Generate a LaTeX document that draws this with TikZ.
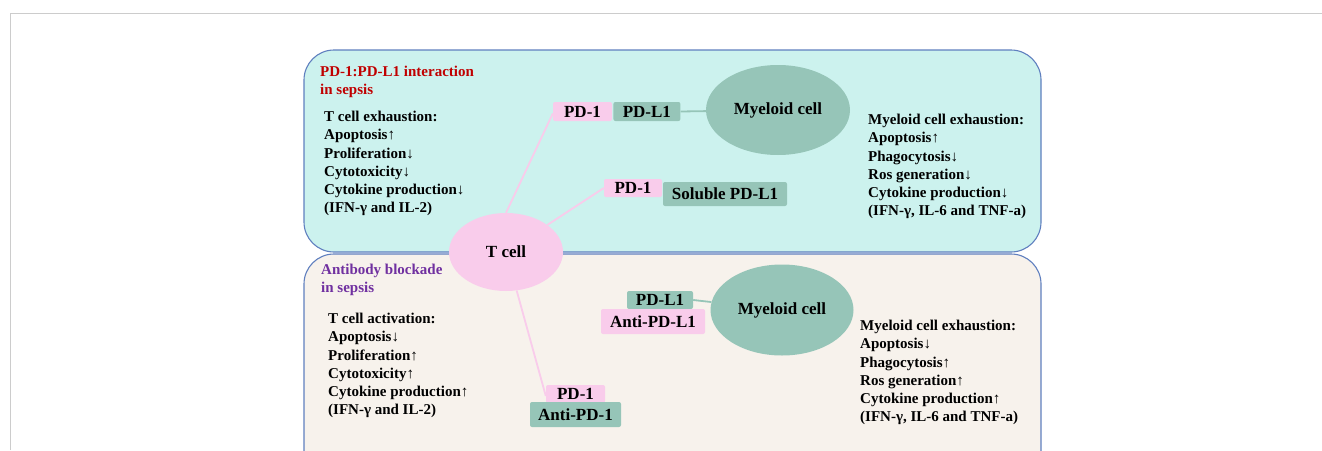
\documentclass[tikz,border=0pt]{standalone}
\usepackage{fontspec}
\setmainfont{Liberation Serif}
\usetikzlibrary{positioning, shapes.geometric}

\definecolor{panelcyan}{HTML}{CCF2EE}
\definecolor{panelbeige}{HTML}{F7F2EC}
\definecolor{panelrim}{HTML}{5F7FBF}
\definecolor{cellpink}{HTML}{F9CCEB}
\definecolor{cellteal}{HTML}{96C5B8}
\definecolor{titlered}{HTML}{C00000}
\definecolor{titlepurple}{HTML}{7030A0}

\begin{document}
\begin{tikzpicture}[x=1pt, y=-1pt,
    panel/.style={draw=panelrim, line width=1.1pt, rounded corners=30pt},
    cell/.style={ellipse, font=\fontsize{17}{19}\selectfont\bfseries, inner sep=0pt},
    tag/.style={rectangle, rounded corners=2pt, inner sep=0pt,
        font=\fontsize{17}{19}\selectfont\bfseries},
    pinktag/.style={tag, fill=cellpink},
    tealtag/.style={tag, fill=cellteal},
    notes/.style={anchor=north west, align=left, inner sep=0pt,
        font=\fontsize{15}{18.2}\selectfont\bfseries},
    pinkline/.style={cellpink, line width=1.8pt},
    tealline/.style={cellteal, line width=1.8pt}]

    \useasboundingbox (0,0) rectangle (1322,450);
    \clip (0,0) rectangle (1322,450);

    % Rahmen
    \draw[black!20, line width=1pt] (10,450) -- (10,13) -- (1322,13);

    % Felder
    \fill[panelbeige, rounded corners=30pt] (304,254) rectangle (1041,480);
    \draw[panel] (304,254) rectangle (1041,480);
    \fill[panelcyan, rounded corners=30pt] (304,50) rectangle (1041,252);
    \draw[panel] (304,50) rectangle (1041,252);

    % Oben: PD-1:PD-L1
    \node[notes, text=titlered] (titleA) at (320,66) {PD-1:PD-L1 interaction\\in sepsis};
    \node[notes] (notesA) at (324,111)
        {T cell exhaustion:\\Apoptosis↑\\Proliferation↓\\Cytotoxicity↓\\Cytokine production↓\\(IFN-γ and IL-2)};
    \node[notes] (notesB) at (868,114)
        {Myeloid cell exhaustion:\\Apoptosis↑\\Phagocytosis↓\\Ros generation↓\\Cytokine production↓\\(IFN-γ, IL-6 and TNF-a)};

    \node[cell, fill=cellteal, minimum width=144pt, minimum height=90pt]
        (myeA) at (778,110) {Myeloid cell};
    \node[pinktag, minimum width=59pt, minimum height=19pt] (pdA) at (582.5,111.5) {PD-1};
    \node[tealtag, minimum width=67pt, minimum height=19pt, right=1pt of pdA] (pdlA) {PD-L1};
    \draw[tealline] (pdlA.east) -- (myeA);

    \node[pinktag, minimum width=58pt, minimum height=18pt] (pdB) at (633,188) {PD-1};
    \node[tealtag, minimum width=124pt, minimum height=24pt] (spdl) at (725,194) {Soluble PD-L1};

    % Unten: Antikoerper
    \node[notes, text=titlepurple] (titleC) at (321,264) {Antibody blockade\\in sepsis};
    \node[notes] (notesC) at (328,313)
        {T cell activation:\\Apoptosis↓\\Proliferation↑\\Cytotoxicity↑\\Cytokine production↑\\(IFN-γ and IL-2)};
    \node[notes] (notesD) at (860,320)
        {Myeloid cell exhaustion:\\Apoptosis↓\\Phagocytosis↑\\Ros generation↑\\Cytokine production↑\\(IFN-γ, IL-6 and TNF-a)};

    \node[cell, fill=cellteal, minimum width=143pt, minimum height=91pt]
        (myeC) at (782,310) {Myeloid cell};
    \node[tealtag, minimum width=66pt, minimum height=18pt] (pdlC) at (660,300) {PD-L1};
    \node[pinktag, minimum width=104pt, minimum height=25pt] (apdl) at (653,321.5) {Anti-PD-L1};
    \draw[tealline] (pdlC.east) -- (myeC);

    \node[pinktag, minimum width=59pt, minimum height=18pt] (pdD) at (575.5,394) {PD-1};
    \node[tealtag, minimum width=91pt, minimum height=25pt] (apd) at (575.5,414.5) {Anti-PD-1};

    % T-Zelle und Verbindungen
    \node[cell, fill=cellpink, minimum width=114pt, minimum height=78pt]
        (tcell) at (506,252) {T cell};
    \draw[pinkline] (tcell.north) -- ([yshift=-2pt]pdA.west);
    \draw[pinkline] (tcell) -- (pdB.west);
    \draw[pinkline] (tcell) -- ([yshift=-2pt]pdD.west);
\end{tikzpicture}
\end{document}
